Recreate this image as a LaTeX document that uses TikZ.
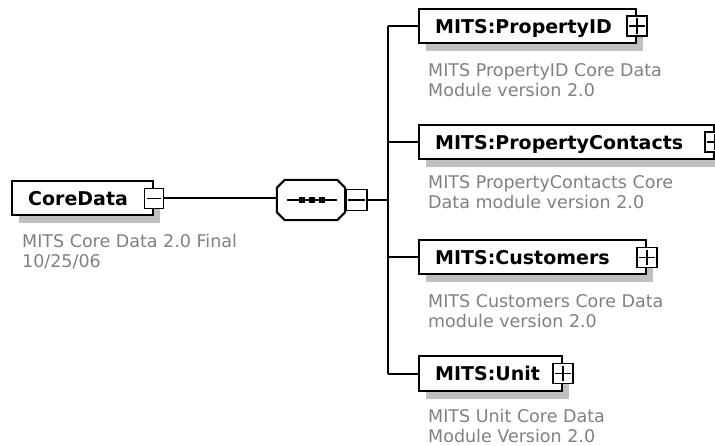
\documentclass[tikz,border=0pt]{standalone}
\usepackage{fontspec}
\setmainfont{DejaVu Sans}
\usetikzlibrary{shadows}
\definecolor{descgray}{RGB}{128,128,128}
\definecolor{shadowgray}{RGB}{192,192,192}
\begin{document}
\begin{tikzpicture}[x=1pt,y=-1pt,
  shad/.style={drop shadow={shadow xshift=7pt,shadow yshift=-8pt,fill=shadowgray,opacity=1}},
  elbox/.style={draw=black,line width=2pt,fill=white,rectangle,minimum height=34pt,anchor=west,inner sep=0pt,shad},
  pmbox/.style={draw=black,line width=1.6pt,fill=white,rectangle,minimum width=20pt,minimum height=20pt,inner sep=0pt},
  elname/.style={font=\bfseries\fontsize{19}{20}\selectfont,anchor=base west,inner sep=0pt},
  desc/.style={font=\fontsize{17.5}{20.5}\selectfont,text=descgray,anchor=north west,align=left,inner sep=0pt},
  conn/.style={draw=black,line width=2pt},
  sign/.style={draw=black,line width=1.6pt},
  octo/.style={draw=black,line width=2pt,fill=white,line join=miter},
  dot/.style={fill=black,minimum size=5.5pt,inner sep=0pt,rectangle}]
\useasboundingbox (0,0) rectangle (715,446);

% root element
\node[elbox,minimum width=141pt] (core) at (11,198.5) {};
\node[elname] (coret) at ([xshift=17pt,yshift=-7.5pt]core.west) {CoreData};
\node[pmbox,minimum width=19pt] (corem) at (core.east) {};
\draw[sign] ([xshift=3pt]corem.west) -- ([xshift=-3pt]corem.east);
\node[desc] (cored) at (22,234) {MITS Core Data 2.0 Final\\10/25/06};

% sequence compositor (octagon)
\node[minimum width=68pt,minimum height=40pt,inner sep=0pt] (seq) at (311,200) {};
\fill[shadowgray,shift={(6,6)}]
  ([xshift=8pt]seq.north west) -- ([xshift=-8pt]seq.north east) -- ([yshift=-8pt]seq.north east)
  -- ([yshift=8pt]seq.south east) -- ([xshift=-8pt]seq.south east) -- ([xshift=8pt]seq.south west)
  -- ([yshift=8pt]seq.south west) -- ([yshift=-8pt]seq.north west) -- cycle;
\path[octo]
  ([xshift=8pt]seq.north west) -- ([xshift=-8pt]seq.north east) -- ([yshift=-8pt]seq.north east)
  -- ([yshift=8pt]seq.south east) -- ([xshift=-8pt]seq.south east) -- ([xshift=8pt]seq.south west)
  -- ([yshift=8pt]seq.south west) -- ([yshift=-8pt]seq.north west) -- cycle;
\draw[line width=1.5pt] ([xshift=-24pt]seq.center) -- ([xshift=26pt]seq.center);
\node[dot] (d1) at ([xshift=-9pt]seq.center) {};
\node[dot] (d2) at ([xshift=1pt]seq.center) {};
\node[dot] (d3) at ([xshift=11pt]seq.center) {};
\node[pmbox,minimum width=21pt,minimum height=21pt,anchor=west] (seqm) at (seq.east) {};
\draw[sign] ([xshift=3pt]seqm.west) -- ([xshift=-3pt]seqm.east);

\draw[conn] (corem.east) -- (corem.east -| seq.west);
\coordinate (bus) at (388,200);
\draw[conn] (seqm.east) -- (bus);

% children
\node[elbox,minimum width=217pt] (pid) at (418,26) {};
\node[elbox,minimum width=295pt] (pc) at (418,142) {};
\node[elbox,minimum width=227pt] (cust) at (418,257.5) {};
\node[elbox,minimum width=143pt] (unit) at (418,373.5) {};

\foreach \n/\t in {pid/MITS:PropertyID,pc/MITS:PropertyContacts,cust/MITS:Customers,unit/MITS:Unit}{
  \node[elname] (\n t) at ([xshift=17pt,yshift=-7.5pt]\n.west) {\t};
  \node[pmbox] (\n p) at (\n.east) {};
  \draw[sign] ([xshift=3pt]\n p.west) -- ([xshift=-3pt]\n p.east);
  \draw[sign] ([yshift=-3pt]\n p.north) -- ([yshift=3pt]\n p.south);
  \draw[conn] (bus |- \n.west) -- (\n.west);
}
\draw[conn] (bus |- pid.west) -- (bus |- unit.west);

\node[desc] (pidd) at (428,63) {MITS PropertyID Core Data\\Module version 2.0};
\node[desc] (pcd) at (428,175) {MITS PropertyContacts Core\\Data module version 2.0};
\node[desc] (custd) at (428,294) {MITS Customers Core Data\\module version 2.0};
\node[desc] (unitd) at (428,409) {MITS Unit Core Data\\Module Version 2.0};
\end{tikzpicture}
\end{document}
